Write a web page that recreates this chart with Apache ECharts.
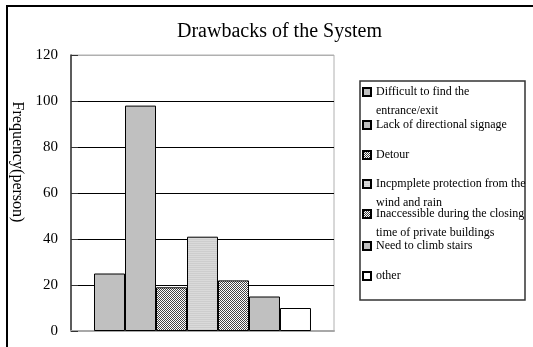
<!DOCTYPE html>
<html>
<head>
<meta charset="utf-8">
<script src="https://cdn.jsdelivr.net/npm/echarts@6/dist/echarts.min.js"></script>
<style>
  html, body { margin: 0; padding: 0; background: #fff; }
  #chart { width: 533px; height: 347px; }
</style>
</head>
<body>
<div id="chart"></div>
<script>
// Survey answers: how many people named each drawback
const categories = [''];
const seriesNames = [
  'Difficult to find the entrance/exit',
  'Lack of directional signage',
  'Detour',
  'Incpmplete protection from the wind and rain',
  'Inaccessible during the closing time of private buildings',
  'Need to climb stairs',
  'other'
];
const legendLines = [
  ['Difficult to find the', 'entrance/exit'],
  ['Lack of directional signage'],
  ['Detour'],
  ['Incpmplete protection from the', 'wind and rain'],
  ['Inaccessible during the closing', 'time of private buildings'],
  ['Need to climb stairs'],
  ['other']
];
const values = [25, 98, 19, 41, 22, 15, 10];
const yTicks = [0, 20, 40, 60, 80, 100, 120];

// layout: vertical centre of each legend row (icon line)
const legendRowY = [92, 125, 155, 184, 214, 246, 276];

const SERIF = '"Liberation Serif", "DejaVu Serif", serif';

function makePattern(w, h, paint) {
  const c = document.createElement('canvas');
  c.width = w; c.height = h;
  const ctx = c.getContext('2d');
  paint(ctx);
  return { image: c, repeat: 'repeat' };
}
const checker = makePattern(2, 2, ctx => {
  ctx.fillStyle = '#ffffff'; ctx.fillRect(0, 0, 2, 2);
  ctx.fillStyle = '#444444'; ctx.fillRect(0, 0, 1, 1); ctx.fillRect(1, 1, 1, 1);
});
const hatch = makePattern(1, 2, ctx => {
  ctx.fillStyle = '#dadada'; ctx.fillRect(0, 0, 1, 1);
  ctx.fillStyle = '#cdcdcd'; ctx.fillRect(0, 1, 1, 1);
});
const fills = ['#c0c0c0', '#c0c0c0', checker, hatch, checker, '#c0c0c0', '#ffffff'];

const chart = echarts.init(document.getElementById('chart'), null, { renderer: 'canvas' });

const series = seriesNames.map((name, i) => ({
  name,
  type: 'bar',
  data: [values[i]],
  barGap: '0%',
  barCategoryGap: '17.5%',
  itemStyle: { color: fills[i], borderColor: '#000', borderWidth: 1 },
  emphasis: { disabled: true }
}));

// Two-line entries get an empty leading line so the first text line
// sits level with the icon and the continuation hangs below it.
const WRAP = 19;
const legends = seriesNames.map((name, i) => {
  const lines = legendLines[i];
  const two = lines.length > 1;
  return {
    data: [{ name, icon: 'rect' }],
    left: 362,
    top: two ? legendRowY[i] - 1.5 * WRAP : legendRowY[i] - 7,
    padding: 0,
    itemWidth: 8,
    itemHeight: 8,
    itemGap: 0,
    selectedMode: false,
    formatter: () => (two ? ' \n' + lines.join('\n') : lines[0]),
    textStyle: {
      fontFamily: SERIF,
      fontSize: 12,
      color: '#000',
      lineHeight: two ? WRAP : 14
    }
  };
});

chart.setOption({
  animation: false,
  title: {
    text: 'Drawbacks of the System',
    left: 177,
    top: 22,
    padding: 0,
    textStyle: { fontFamily: SERIF, fontSize: 20, fontWeight: 'normal', color: '#000' }
  },
  grid: {
    left: 71, top: 55, right: 199, bottom: 16,
    show: true, borderColor: '#b0b0b0', borderWidth: 1
  },
  legend: legends,
  xAxis: {
    type: 'category',
    data: categories,
    axisLine: { lineStyle: { color: '#a8a8a8', width: 2 } },
    axisTick: { show: false },
    axisLabel: { show: false }
  },
  yAxis: {
    type: 'value',
    min: yTicks[0],
    max: yTicks[yTicks.length - 1],
    interval: yTicks[1] - yTicks[0],
    axisLine: { show: true, lineStyle: { color: '#333', width: 1.5 } },
    axisTick: { show: true, inside: true, length: 7, lineStyle: { color: '#333' } },
    axisLabel: { fontFamily: SERIF, fontSize: 15, color: '#000', margin: 13 },
    splitLine: {
      lineStyle: { color: ['#a8a8a8', '#000', '#000', '#000', '#000', '#000', '#b0b0b0'], width: 1 }
    }
  },
  graphic: [
    {
      type: 'rect', silent: true, z: -1,
      shape: { x: 7, y: 6, width: 540, height: 360 },
      style: { fill: 'none', stroke: '#000', lineWidth: 2 }
    },
    {
      type: 'rect', silent: true,
      shape: { x: 360, y: 81, width: 165, height: 219 },
      style: { fill: 'none', stroke: '#333', lineWidth: 1.5 }
    },
    {
      type: 'text', silent: true,
      x: 17, y: 162, rotation: -Math.PI / 2,
      style: {
        text: 'Frequency(person)', fontFamily: SERIF, fontSize: 16, fill: '#000',
        align: 'center', verticalAlign: 'middle'
      }
    }
  ],
  series
});
</script>
</body>
</html>
